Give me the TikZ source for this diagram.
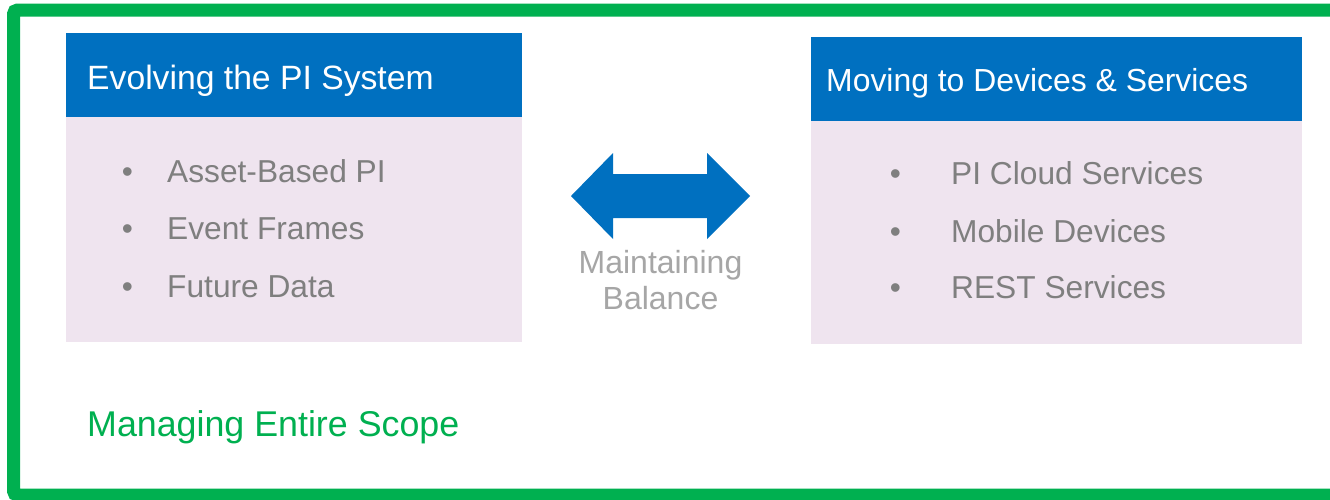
\documentclass[tikz,border=0pt]{standalone}
\usepackage{fontspec}
\setmainfont{Liberation Sans}
\definecolor{frameGreen}{HTML}{00B050}
\definecolor{headBlue}{HTML}{0070C0}
\definecolor{bodyPink}{HTML}{EFE4EF}
\definecolor{itemGray}{HTML}{7F7F7F}
\definecolor{lightGray}{HTML}{A6A6A6}
\tikzset{
  header/.style={rectangle, fill=headBlue, anchor=north west, inner sep=0pt},
  bodybox/.style={rectangle, fill=bodyPink, anchor=north west, inner sep=0pt},
  headtext/.style={anchor=base west, inner sep=0pt, text=white, font=\fontsize{33.7}{40}\selectfont},
  itemtext/.style={anchor=base west, inner sep=0pt, text=itemGray, font=\fontsize{31.7}{38}\selectfont},
  bullet/.style={anchor=base, inner sep=0pt, text=itemGray, font=\fontsize{31.7}{38}\selectfont},
}
\begin{document}
\begin{tikzpicture}[x=1pt,y=-1pt]
\clip (0,0) rectangle (1330,499);
\useasboundingbox (0,0) rectangle (1330,499);
\fill[white] (0,0) rectangle (1330,499);
% outer frame
\draw[frameGreen, line width=13pt, rounded corners=4pt] (13.5,10) rectangle (1345,495);
% left box
\node[bodybox, minimum width=456pt, minimum height=226pt] (lbody) at (66,116) {};
\node[header, minimum width=456pt, minimum height=84pt] (lhead) at (66,33) {};
\node[headtext] (ltitle) at (87,89) {Evolving the PI System};
\node[bullet] (lb1) at (127.5,182) {•};
\node[bullet] (lb2) at (127.5,239) {•};
\node[bullet] (lb3) at (127.5,297) {•};
\node[itemtext] (li1) at (167,182) {Asset-Based PI};
\node[itemtext] (li2) at (167,239) {Event Frames};
\node[itemtext] (li3) at (167,297) {Future Data};
% right box
\node[bodybox, minimum width=491pt, minimum height=224pt] (rbody) at (811,120) {};
\node[header, minimum width=491pt, minimum height=84pt] (rhead) at (811,37) {};
\node[headtext, font=\fontsize{31.9}{38}\selectfont] (rtitle) at (826,91) {Moving to Devices \& Services};
\node[bullet] (rb1) at (895.5,184) {•};
\node[bullet] (rb2) at (895.5,242) {•};
\node[bullet] (rb3) at (895.5,298) {•};
\node[itemtext] (ri1) at (951,184) {PI Cloud Services};
\node[itemtext] (ri2) at (951,242) {Mobile Devices};
\node[itemtext] (ri3) at (951,298) {REST Services};
% double arrow
\fill[headBlue] (571,196) -- (613,153) -- (613,174) -- (707,174) -- (707,153)
  -- (750,196) -- (707,239) -- (707,218) -- (613,218) -- (613,239) -- cycle;
\node[anchor=base, inner sep=0pt, text=lightGray, font=\fontsize{32}{38}\selectfont] (bal1) at (660.5,273) {Maintaining};
\node[anchor=base, inner sep=0pt, text=lightGray, font=\fontsize{32}{38}\selectfont] (bal2) at (660.5,309) {Balance};
% scope label
\node[anchor=base west, inner sep=0pt, text=frameGreen, font=\fontsize{35.8}{42}\selectfont] (scope) at (87,436) {Managing Entire Scope};
\end{tikzpicture}
\end{document}
